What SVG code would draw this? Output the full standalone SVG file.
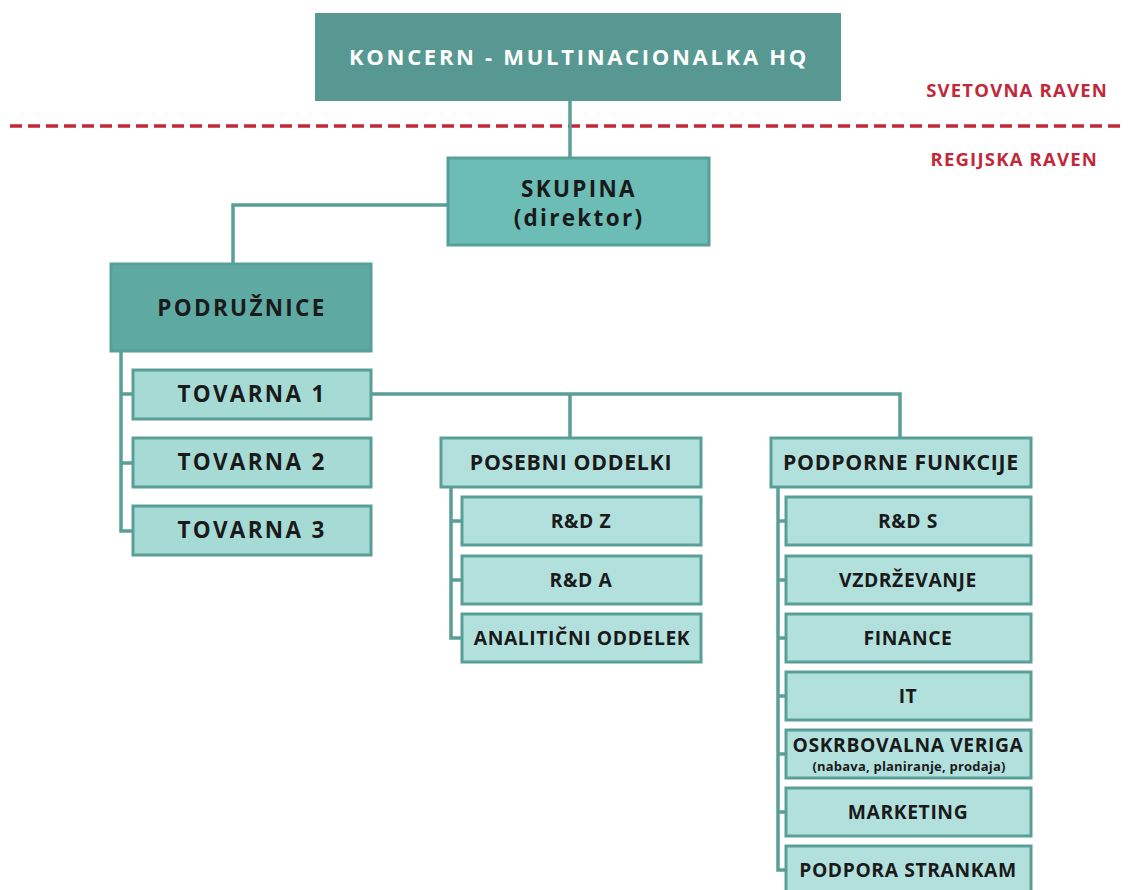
<svg xmlns="http://www.w3.org/2000/svg" width="1135" height="890" viewBox="0 0 1135 890">
<style>
text{font-family:"Open Sans","Liberation Sans",sans-serif;font-weight:bold;text-anchor:middle;fill:#1a1a1a}
.hq{fill:#589892}
.hqt{fill:#ffffff;font-size:22px;letter-spacing:2.7px}
.mid{fill:#6bbdb5;stroke:#57a098;stroke-width:3}
.dark{fill:#5eaaa2;stroke:#57a098;stroke-width:3}
.lt{fill:#a6dad5;stroke:#5a9f97;stroke-width:3}
.lt2{fill:#b2e1dd;stroke:#5a9f97;stroke-width:3}
.big{font-size:22.5px;letter-spacing:2.3px}
.hd{font-size:21.3px;letter-spacing:0.7px}
.sm{font-size:19.3px;letter-spacing:0.6px}
.xs{font-size:13px;letter-spacing:0.2px}
.lvl{fill:#c1283a;font-size:18.5px;letter-spacing:1.2px;text-anchor:end}
.conn{fill:none;stroke:#5a9f97;stroke-width:3.5}
</style>
<rect width="1135" height="890" fill="#ffffff"/>
<g id="connectors">
<line x1="10" y1="126" x2="1125" y2="126" stroke="#c1283a" stroke-width="3.5" stroke-dasharray="12,6"/>
<path class="conn" d="M570 101V158"/>
<path class="conn" d="M448 205H233V264"/>
<path class="conn" d="M121 351V531H133M121 394H133M121 463H133"/>
<path class="conn" d="M371 394H900V438M570 394V438"/>
<path class="conn" d="M451 487V638H462M451 521H462M451 580H462"/>
<path class="conn" d="M778 487V870H786M778 521H786M778 580H786M778 638H786M778 696H786M778 754H786M778 812H786"/>
</g>
<g id="levels">
<text class="lvl" x="1108" y="97">SVETOVNA RAVEN</text>
<text class="lvl" x="1098" y="166">REGIJSKA RAVEN</text>
</g>
<g id="hq"><rect class="hq" x="315" y="13" width="526" height="88"/><text class="hqt" x="579" y="65">KONCERN - MULTINACIONALKA HQ</text></g>
<g id="skupina"><rect class="mid" x="448" y="158" width="261" height="87"/><text class="big" x="579" y="197">SKUPINA</text><text class="big" x="579" y="226">(direktor)</text></g>
<g id="podruznice"><rect class="dark" x="111" y="264" width="260" height="87"/><text class="big" x="242" y="316">PODRUŽNICE</text></g>
<g id="tovarna1"><rect class="lt" x="133" y="370" width="238" height="49"/><text class="big" x="252" y="402">TOVARNA 1</text></g>
<g id="tovarna2"><rect class="lt" x="133" y="438" width="238" height="49"/><text class="big" x="252" y="470">TOVARNA 2</text></g>
<g id="tovarna3"><rect class="lt" x="133" y="506" width="238" height="49"/><text class="big" x="252" y="538">TOVARNA 3</text></g>
<g id="posebni"><rect class="lt2" x="441" y="438" width="260" height="49"/><text class="hd" x="571" y="470">POSEBNI ODDELKI</text></g>
<g id="rdz"><rect class="lt2" x="462" y="497" width="239" height="48"/><text class="sm" x="581" y="528">R&amp;D Z</text></g>
<g id="rda"><rect class="lt2" x="462" y="556" width="239" height="48"/><text class="sm" x="581" y="587">R&amp;D A</text></g>
<g id="analiticni"><rect class="lt2" x="462" y="614" width="239" height="48"/><text class="sm" x="582" y="645">ANALITIČNI ODDELEK</text></g>
<g id="podporne"><rect class="lt2" x="771" y="438" width="260" height="49"/><text class="hd" x="901" y="470">PODPORNE FUNKCIJE</text></g>
<g id="rds"><rect class="lt2" x="786" y="497" width="245" height="48"/><text class="sm" x="908" y="528">R&amp;D S</text></g>
<g id="vzdrzevanje"><rect class="lt2" x="786" y="556" width="245" height="48"/><text class="sm" x="908" y="587">VZDRŽEVANJE</text></g>
<g id="finance"><rect class="lt2" x="786" y="614" width="245" height="48"/><text class="sm" x="908" y="645">FINANCE</text></g>
<g id="it"><rect class="lt2" x="786" y="672" width="245" height="48"/><text class="sm" x="908" y="703">IT</text></g>
<g id="oskrbovalna"><rect class="lt2" x="786" y="730" width="245" height="48"/><text class="sm" x="908" y="752">OSKRBOVALNA VERIGA</text><text class="xs" x="909" y="771">(nabava, planiranje, prodaja)</text></g>
<g id="marketing"><rect class="lt2" x="786" y="788" width="245" height="48"/><text class="sm" x="908" y="819">MARKETING</text></g>
<g id="podpora"><rect class="lt2" x="786" y="846" width="245" height="48"/><text class="sm" x="908" y="877">PODPORA STRANKAM</text></g>
</svg>
